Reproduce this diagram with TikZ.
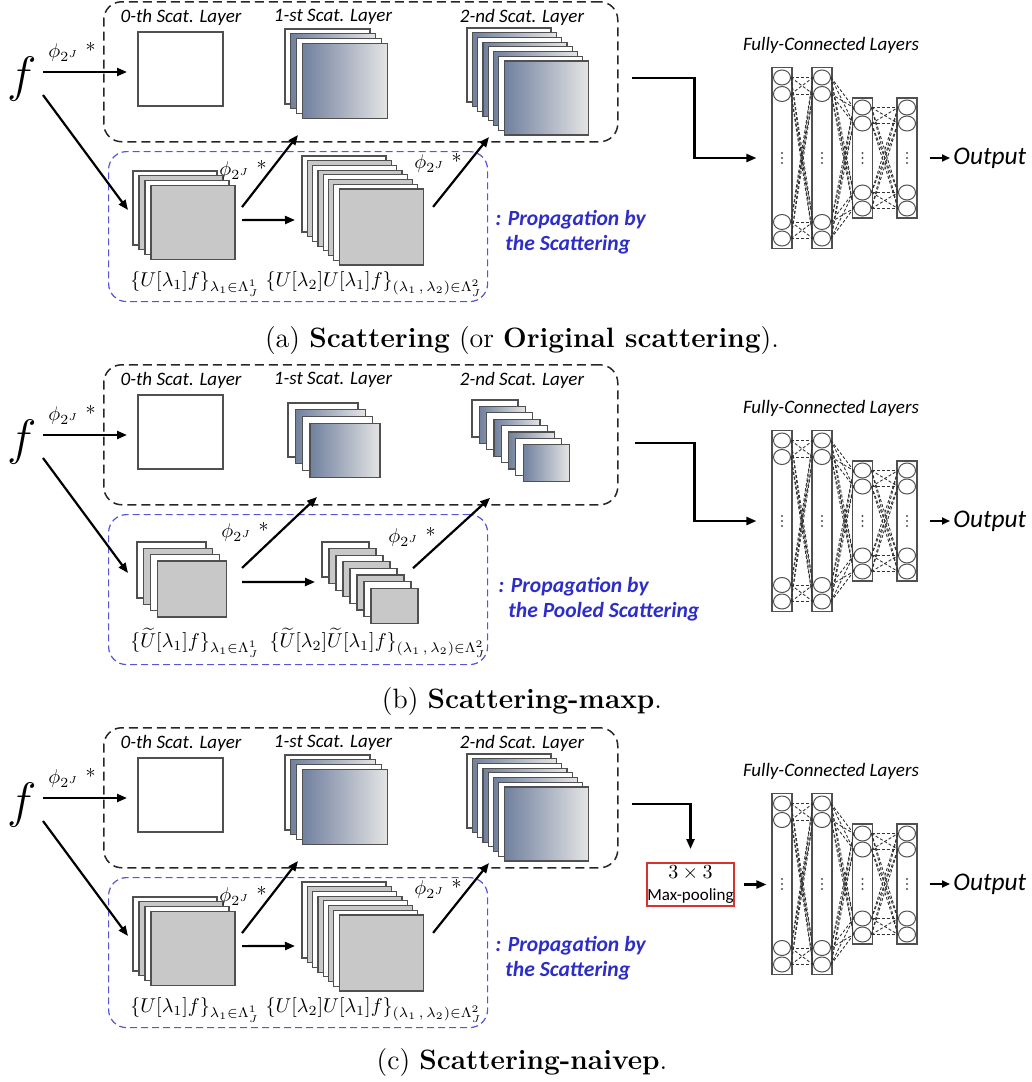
\documentclass[tikz,border=0pt]{standalone}
\usepackage{fontspec}
\newfontfamily\calibri{Carlito}
\usetikzlibrary{positioning,arrows.meta,shapes.geometric}

\definecolor{scatdark}{RGB}{112,128,158}
\definecolor{scatlight}{RGB}{228,228,228}
\definecolor{propgray}{RGB}{200,200,200}
\definecolor{propblue}{RGB}{45,45,200}
\definecolor{boxblue}{RGB}{85,85,215}
\definecolor{poolred}{RGB}{215,50,50}
\definecolor{edgegray}{RGB}{80,80,80}

\newcommand{\pxl}{0.5pt}

\tikzset{
  sheet/.style={draw=edgegray, line width=0.6pt, inner sep=0pt, outer sep=0pt, anchor=north west},
  scat/.style={left color=scatdark, right color=scatlight},
  prop/.style={fill=propgray},
  scatbox/.style={draw=black!85, line width=0.75pt, dash pattern=on 4.5pt off 2.5pt, rounded corners=9pt, inner sep=0pt, anchor=north west},
  propbox/.style={draw=boxblue, line width=0.6pt, dash pattern=on 3.5pt off 2pt, rounded corners=9pt, inner sep=0pt, anchor=north west},
  arr/.style={-{Triangle[length=5pt,width=4pt]}, line width=1.1pt},
  layertitle/.style={inner sep=0pt, font=\calibri\itshape\fontsize{9.5}{11}\selectfont},
  philabel/.style={inner sep=0pt, font=\fontsize{10}{12}\selectfont},
  proptext/.style={inner sep=0pt, anchor=west, align=left, text=propblue, font=\calibri\bfseries\itshape\fontsize{10.8}{12.5}\selectfont},
  fccol/.style={draw=edgegray, line width=0.6pt, minimum width=20*\pxl, inner sep=0pt},
  neuron/.style={ellipse, draw=edgegray, fill=white, line width=0.5pt, minimum width=17*\pxl, minimum height=15*\pxl, inner sep=0pt},
  fcline/.style={draw=black!80, line width=0.45pt, dash pattern=on 1.5pt off 1pt},
  outtext/.style={inner sep=0pt, anchor=west, font=\calibri\itshape\fontsize{12.7}{14}\selectfont},
  poolbox/.style={draw=poolred, line width=1pt, minimum width=87*\pxl, minimum height=43*\pxl, inner sep=0pt, align=center},
  caption/.style={inner sep=0pt, font=\fontsize{14}{16}\selectfont}
}

% name, x, y, sheets, dx, dy, width, height, fill style
\newcommand{\sheetstack}[9]{%
  \foreach \i in {1,...,#4} {
    \ifodd\i
      \node[sheet, fill=white, minimum width=#7*\pxl, minimum height=#8*\pxl] (#1-\i) at ({#2+(\i-1)*#5},{#3+(\i-1)*#6}) {};
    \else
      \node[sheet, #9, minimum width=#7*\pxl, minimum height=#8*\pxl] (#1-\i) at ({#2+(\i-1)*#5},{#3+(\i-1)*#6}) {};
    \fi
  }
}

\newcommand{\fclayers}[1]{%
  \node[layertitle] (#1fct) at (831,45) {Fully-Connected Layers};
  \foreach \k/\cx/\h/\r/\s in {1/782/181/80.5/64,2/822/181/80.5/64,3/862.5/120/50.5/34.5,4/907/120/50.5/34.5} {
    \node[fccol, minimum height=\h*\pxl] (#1fc\k) at (\cx,158) {};
    \foreach \d in {-5,0,5}
      \fill[edgegray] ([shift={(0,\d)}]#1fc\k.center) circle (0.6pt);
    \node[neuron] (#1n\k-1) at (\cx,158-\r) {};
    \node[neuron] (#1n\k-2) at (\cx,158-\s) {};
    \node[neuron] (#1n\k-3) at (\cx,158+\s) {};
    \node[neuron] (#1n\k-4) at (\cx,158+\r) {};
  }
  \foreach \k/\l in {1/2,2/3,3/4}
    \foreach \p in {1,...,4}
      \foreach \q in {1,...,4}
        \draw[fcline] (#1n\k-\p.east) -- (#1n\l-\q.west);
  \node[outtext] (#1out) at (953,158) {Output};
  \draw[arr, line width=0.9pt, -{Triangle[length=4pt,width=3.5pt]}, shorten <=6pt, shorten >=1.5pt] (#1fc4.east) -- (#1out.west);
}

\newcommand{\scatbase}[1]{%
  \node[scatbox, minimum width=514*\pxl, minimum height=140*\pxl] (#1box) at (103,1) {};
  \node[propbox, minimum width=379*\pxl, minimum height=150*\pxl] (#1pbox) at (108,151) {};
  \node[inner sep=0pt] (#1f) at (22,79) {\fontsize{24}{24}\selectfont$f$};
  \node[sheet, fill=white, minimum width=85*\pxl, minimum height=74*\pxl] (#10) at (138,32) {};
  \node[layertitle] (#1t0) at (181,17) {0-th Scat. Layer};
  \node[layertitle] (#1t1) at (333,17) {1-st Scat. Layer};
  \node[layertitle] (#1t2) at (522,17) {2-nd Scat. Layer};
  \node[philabel] (#1phi0) at (72,52) {$\phi_{2^J}$ *};
  \draw[arr] ([shift={(21,-7)}]#1f.center) -- ([shift={(-11,3)}]#10.west);
  \fclayers{#1}
}

\newcommand{\scatorig}[1]{%
  \sheetstack{#11}{285}{29}{4}{5.7}{4.7}{85}{75}{scat}
  \sheetstack{#12}{467}{28}{8}{5.3}{4.7}{84}{74}{scat}
  \sheetstack{#1u1}{133}{171}{4}{6}{4.7}{84}{74}{prop}
  \sheetstack{#1u2}{302}{156}{8}{5.3}{4.7}{84}{76}{prop}
  \node[philabel] (#1lu1) at (195,284) {$\{U[\lambda_1]f\}_{\lambda_1\in\Lambda_J^1}$};
  \node[philabel] (#1lu2) at (374,284) {$\{U[\lambda_2]U[\lambda_1]f\}_{(\lambda_1\,,\,\lambda_2)\in\Lambda_J^2}$};
  \node[philabel] (#1phi1) at (243,170) {$\phi_{2^J}$ *};
  \node[philabel] (#1phi2) at (438,163) {$\phi_{2^J}$ *};
  \node[proptext] (#1prop) at (495,232.5) {: Propagation by\\\hspace*{5pt}the Scattering};
  \draw[arr] ([shift={(21,16)}]#1f.center) -- ([shift={(-5,39)}]#1u1-1.north west);
  \draw[arr] ([shift={(7,-15)}]#1u1-4.east) -- ([shift={(13,31)}]#11-1.south west);
  \draw[arr] ([shift={(7,-2)}]#1u1-4.east) -- ([shift={(-7,26)}]#1u2-1.west);
  \draw[arr] ([shift={(10,-20)}]#1u2-8.east) -- ([shift={(22,35)}]#12-1.south west);
}

\begin{document}
\begin{tikzpicture}[x=0.5pt,y=-0.5pt]
        \useasboundingbox (0,0) rectangle (1032,1082);

        \begin{scope}
          \scatbase{a}
          \scatorig{a}
          \draw[arr, shorten >=7.5pt] ([shift={(13,6)}]abox.east) -| ([xshift=-38.5pt]afc1.west) -- (afc1.west);
        \end{scope}
        \node[caption] (capa) at (522,341) {(a) \textbf{Scattering} (or \textbf{Original scattering}).};

        \begin{scope}[shift={(0,363)}]
          \scatbase{b}
          \sheetstack{b1}{288}{40}{4}{7.3}{6.7}{70}{54}{scat}
          \sheetstack{b2}{472}{37}{8}{7.3}{6.4}{46}{37}{scat}
          \sheetstack{bu1}{137}{179}{4}{6.7}{6.3}{69}{56}{prop}
          \sheetstack{bu2}{322}{179}{8}{7}{6.6}{47}{35}{prop}
          \node[philabel] (blu1) at (195,280) {$\{\widetilde{U}[\lambda_1]f\}_{\lambda_1\in\Lambda_J^1}$};
          \node[philabel] (blu2) at (378,280) {$\{\widetilde{U}[\lambda_2]\widetilde{U}[\lambda_1]f\}_{(\lambda_1\,,\,\lambda_2)\in\Lambda_J^2}$};
          \node[philabel] (bphi1) at (245,169) {$\phi_{2^J}$ *};
          \node[philabel] (bphi2) at (412,174) {$\phi_{2^J}$ *};
          \node[proptext] (bprop) at (498,236.5) {: Propagation by\\\hspace*{5pt}the Pooled Scattering};
          \draw[arr] ([shift={(21,16)}]bf.center) -- ([shift={(-9,31)}]bu1-1.north west);
          \draw[arr] ([shift={(16,-21)}]bu1-4.east) -- ([shift={(29,40)}]b1-1.south west);
          \draw[arr] ([shift={(16,-7)}]bu1-4.east) -- ([shift={(-7,22.5)}]bu2-1.west);
          \draw[arr] ([shift={(-5,-20)}]bu2-8.north east) -- ([shift={(-33,16)}]b2-8.south west);
          \draw[arr, shorten >=7.5pt] ([shift={(16,8)}]bbox.east) -| ([xshift=-38.5pt]bfc1.west) -- (bfc1.west);
        \end{scope}
        \node[caption] (capb) at (522,702) {(b) \textbf{Scattering-maxp}.};

        \begin{scope}[shift={(0,726)}]
          \scatbase{c}
          \scatorig{c}
          \node[poolbox] (cpool) at (690.5,158.5) {\fontsize{10}{11}\selectfont$3\times3$\\[-1pt]{\calibri\fontsize{8.5}{9}\selectfont Max-pooling}};
          \draw[arr, shorten >=6.5pt] ([shift={(13,6)}]cbox.east) -| (cpool.north);
          \draw[arr, shorten <=4.5pt, shorten >=2.5pt] (cpool.east) -- (cfc1.west |- cpool.east);
        \end{scope}
        \node[caption] (capc) at (522,1063) {(c) \textbf{Scattering-naivep}.};
    \end{tikzpicture}
\end{document}
